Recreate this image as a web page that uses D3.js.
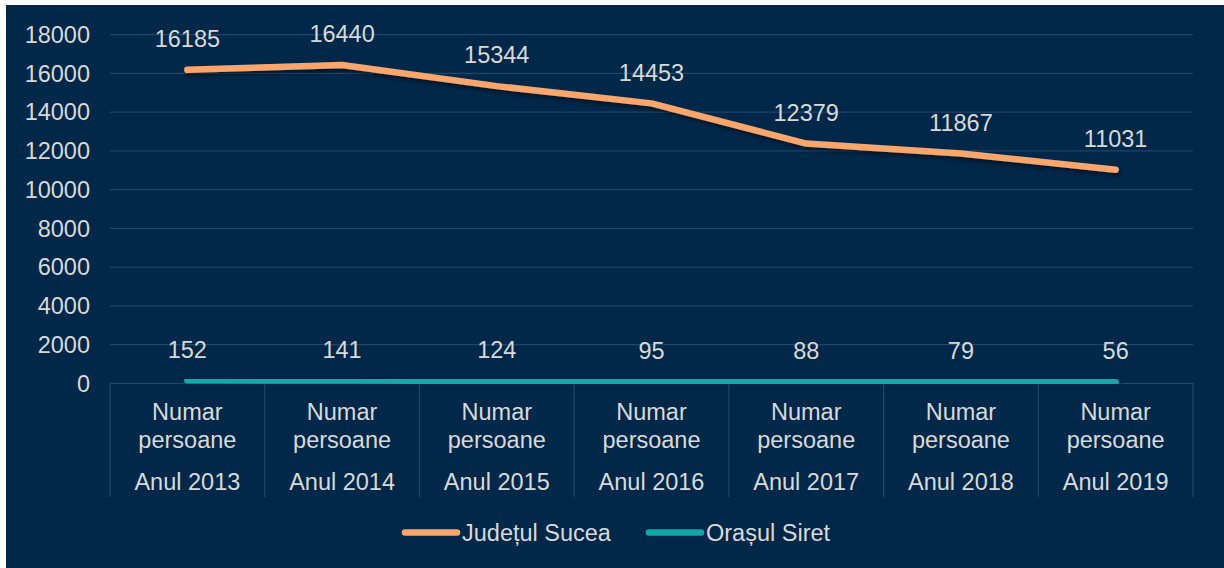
<!DOCTYPE html>
<html><head><meta charset="utf-8">
<script src="https://cdn.jsdelivr.net/npm/d3@7"></script>
<style>body{margin:0;background:#fff;}svg{display:block;font-family:"Liberation Sans",Arial,sans-serif;}</style>
</head><body><svg id="c" width="1224" height="568"></svg>
<script>
const categories = ["Anul 2013","Anul 2014","Anul 2015","Anul 2016","Anul 2017","Anul 2018","Anul 2019"];
const subLabel = ["Numar","persoane"];
const sucea = [16185,16440,15344,14453,12379,11867,11031];
const siret = [152,141,124,95,88,79,56];
const seriesNames = ["Județul Sucea","Orașul Siret"];
const yTicks = [0,2000,4000,6000,8000,10000,12000,14000,16000,18000];
const colors = ["#F8A66C","#14A7A8"];

const svg = d3.select("#c");
svg.append("rect").attr("x",6).attr("y",5).attr("width",1218).attr("height",563).attr("fill","#012749");
const defs = svg.append("defs");
const f = defs.append("filter").attr("id","sh").attr("x","-10%").attr("y","-50%").attr("width","120%").attr("height","200%");
f.append("feDropShadow").attr("dx",2).attr("dy",3).attr("stdDeviation",2).attr("flood-color","#000").attr("flood-opacity",0.45);

const L=110,R=1193,T=34.7,B=383.3;
const FS=23.5;
const x = d3.scaleBand().domain(categories).range([L,R]);
const y = d3.scaleLinear().domain([0,18000]).range([B,T]);
const txt="#D9D9D9", grid="#20456A";

svg.append("g").selectAll("line").data(yTicks).join("line")
  .attr("x1",L).attr("x2",R).attr("y1",d=>y(d)).attr("y2",d=>y(d))
  .attr("stroke",grid).attr("stroke-width",1.3);
svg.append("g").selectAll("text").data(yTicks).join("text")
  .attr("x",90).attr("y",d=>y(d)).attr("dy","0.35em").attr("text-anchor","end")
  .attr("fill",txt).attr("font-size",FS).text(d=>d);
const seps = categories.map(c=>x(c)).concat([R]);
svg.append("g").selectAll("line").data(seps).join("line")
  .attr("x1",d=>d).attr("x2",d=>d).attr("y1",B).attr("y2",497)
  .attr("stroke",grid).attr("stroke-width",1.3);
const cg = svg.append("g").selectAll("g").data(categories).join("g")
  .attr("transform",d=>`translate(${x(d)+x.bandwidth()/2},0)`);
cg.append("text").attr("y",420).attr("text-anchor","middle").attr("fill",txt).attr("font-size",FS).text(subLabel[0]);
cg.append("text").attr("y",448).attr("text-anchor","middle").attr("fill",txt).attr("font-size",FS).text(subLabel[1]);
cg.append("text").attr("y",490).attr("text-anchor","middle").attr("fill",txt).attr("font-size",FS).text(d=>d);

const line = d3.line().x((d,i)=>x(categories[i])+x.bandwidth()/2).y(d=>y(d));
[sucea,siret].forEach((s,k)=>{
  svg.append("path").attr("d",line(s)).attr("fill","none").attr("stroke",colors[k])
    .attr("stroke-width",6.5).attr("stroke-linecap","round").attr("stroke-linejoin","round").attr("filter","url(#sh)");
});
[sucea,siret].forEach((s,k)=>{
  svg.append("g").selectAll("text").data(s).join("text")
    .attr("x",(d,i)=>x(categories[i])+x.bandwidth()/2).attr("y",d=>y(d)-31).attr("dy","0.35em")
    .attr("text-anchor","middle").attr("fill",txt).attr("font-size",FS).text(d=>d);
});
const leg = [{x:405,tx:462},{x:649,tx:706}];
seriesNames.forEach((n,k)=>{
  svg.append("line").attr("x1",leg[k].x).attr("x2",leg[k].x+52).attr("y1",532.5).attr("y2",532.5)
    .attr("stroke",colors[k]).attr("stroke-width",6.5).attr("stroke-linecap","round");
  svg.append("text").attr("x",leg[k].tx).attr("y",532.5).attr("dy","0.35em").attr("fill",txt).attr("font-size",FS).text(n);
});
</script></body></html>
